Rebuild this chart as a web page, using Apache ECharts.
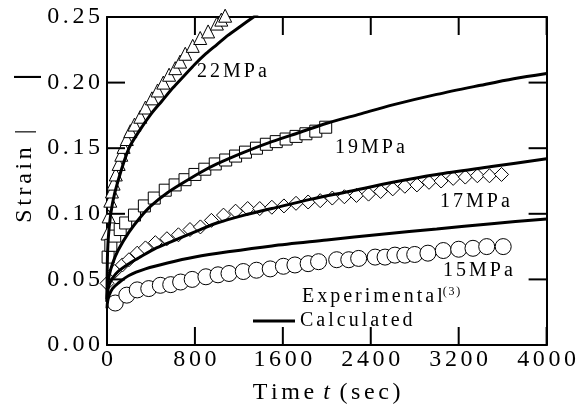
<!DOCTYPE html>
<html>
<head>
<meta charset="utf-8">
<script src="https://cdn.jsdelivr.net/npm/echarts@6/dist/echarts.min.js"></script>
<style>
  html, body { margin: 0; padding: 0; background: #fff; }
  #chart { width: 579px; height: 412px; }
</style>
</head>
<body>
<div id="chart"></div>
<script>
// Wide, typewriter-like spacing for the serif labels. Glyphs are placed one by one so that
// alignment and measured widths stay consistent with the extra spacing.
(function () {
  const P = CanvasRenderingContext2D.prototype;
  const fill = P.fillText, measure = P.measureText;
  function gap(ctx) {
    const r = /(\d+(?:\.\d+)?)px/.exec(ctx.font);
    return r ? parseFloat(r[1]) * 0.15 : 0;
  }
  P.measureText = function (text) {
    const m = measure.call(this, text);
    const s = String(text);
    const g = gap(this);
    if (!g || s.length < 2) return m;
    const extra = g * (Array.from(s).length - 1);
    return {
      width: m.width + extra,
      actualBoundingBoxLeft: m.actualBoundingBoxLeft,
      actualBoundingBoxRight: m.actualBoundingBoxRight + extra,
      actualBoundingBoxAscent: m.actualBoundingBoxAscent,
      actualBoundingBoxDescent: m.actualBoundingBoxDescent,
      fontBoundingBoxAscent: m.fontBoundingBoxAscent,
      fontBoundingBoxDescent: m.fontBoundingBoxDescent
    };
  };
  P.fillText = function (text, x, y) {
    const s = String(text);
    const g = gap(this);
    const chars = Array.from(s);
    if (!g || chars.length < 2) return fill.call(this, s, x, y);
    const widths = chars.map(c => measure.call(this, c).width);
    const total = widths.reduce((a, b) => a + b, 0) + g * (chars.length - 1);
    const align = this.textAlign;
    let cx = x;
    if (align === 'right' || align === 'end') cx = x - total;
    else if (align === 'center') cx = x - total / 2;
    this.textAlign = 'left';
    chars.forEach((c, i) => { fill.call(this, c, cx, y); cx += widths[i] + g; });
    this.textAlign = align;
  };
})();

// Axis ticks
const timeTicks = [0, 800, 1600, 2400, 3200, 4000];
const strainTicks = [0, 0.05, 0.10, 0.15, 0.20, 0.25];

// Stress levels
const stressLabels = ['22MPa', '19MPa', '17MPa', '15MPa'];

// Experimental creep data, 22 MPa (triangles)
const t22exp = [5, 15, 30, 45, 60, 80, 106, 130, 151, 180, 212, 250, 303, 350, 409, 460, 512, 565, 621, 665, 712, 780, 848, 920, 1000, 1040, 1075];
const e22exp = [0.085, 0.098, 0.110, 0.117, 0.123, 0.130, 0.138, 0.145, 0.151, 0.157, 0.163, 0.168, 0.174, 0.181, 0.188, 0.194, 0.200, 0.206, 0.211, 0.216, 0.222, 0.228, 0.234, 0.239, 0.245, 0.248, 0.251];

// Experimental creep data, 19 MPa (squares)
const t19exp = [10, 35, 70, 120, 170, 250, 340, 430, 530, 620, 710, 800, 890, 985, 1080, 1170, 1260, 1360, 1450, 1540, 1630, 1720, 1810, 1900, 1990];
const e19exp = [0.067, 0.076, 0.083, 0.088, 0.093, 0.099, 0.106, 0.112, 0.118, 0.122, 0.126, 0.130, 0.134, 0.138, 0.141, 0.144, 0.147, 0.150, 0.153, 0.155, 0.157, 0.159, 0.161, 0.163, 0.166];

// Experimental creep data, 17 MPa (diamonds)
const t17exp = [0, 70, 140, 200, 275, 350, 440, 545, 650, 755, 850, 950, 1060, 1170, 1280, 1390, 1500, 1610, 1720, 1830, 1940, 2050, 2160, 2270, 2380, 2490, 2600, 2710, 2820, 2930, 3040, 3150, 3260, 3370, 3480, 3590];
const e17exp = [0.047, 0.056, 0.061, 0.065, 0.070, 0.074, 0.078, 0.081, 0.084, 0.088, 0.090, 0.095, 0.099, 0.102, 0.104, 0.104, 0.105, 0.106, 0.108, 0.109, 0.110, 0.112, 0.113, 0.114, 0.115, 0.117, 0.119, 0.121, 0.122, 0.124, 0.125, 0.127, 0.128, 0.129, 0.129, 0.130];

// Experimental creep data, 15 MPa (circles)
const t15exp = [75, 180, 275, 380, 485, 580, 670, 775, 900, 1010, 1110, 1240, 1360, 1485, 1605, 1710, 1830, 1925, 2090, 2200, 2290, 2440, 2530, 2620, 2710, 2800, 2920, 3060, 3200, 3330, 3455, 3605];
const e15exp = [0.032, 0.038, 0.042, 0.043, 0.0455, 0.046, 0.048, 0.050, 0.052, 0.0535, 0.0545, 0.056, 0.057, 0.058, 0.060, 0.061, 0.062, 0.0635, 0.065, 0.065, 0.066, 0.067, 0.067, 0.0685, 0.0685, 0.069, 0.070, 0.072, 0.073, 0.0737, 0.075, 0.075];

// Calculated creep curves
const t22calc = [0, 5, 20, 50, 100, 200, 300, 400, 500, 600, 700, 800, 900, 1000, 1100, 1200, 1350, 1400];
const e22calc = [0.035, 0.070, 0.090, 0.108, 0.125, 0.150, 0.164, 0.176, 0.186, 0.196, 0.205, 0.214, 0.222, 0.229, 0.236, 0.242, 0.251, 0.254];
const t19calc = [0, 5, 20, 50, 100, 200, 300, 400, 550, 700, 850, 1000, 1250, 1500, 1750, 2000, 2300, 2600, 3000, 3400, 3700, 4000];
const e19calc = [0.033, 0.045, 0.053, 0.062, 0.072, 0.086, 0.097, 0.106, 0.116, 0.124, 0.1315, 0.138, 0.147, 0.155, 0.162, 0.169, 0.176, 0.183, 0.191, 0.198, 0.203, 0.207];
const t17calc = [0, 5, 20, 50, 100, 200, 300, 450, 650, 850, 1000, 1250, 1500, 1850, 2200, 2600, 3000, 3500, 4000];
const e17calc = [0.033, 0.040, 0.046, 0.051, 0.056, 0.062, 0.067, 0.074, 0.081, 0.088, 0.093, 0.099, 0.104, 0.111, 0.117, 0.124, 0.130, 0.136, 0.142];
const t15calc = [0, 5, 20, 50, 100, 200, 350, 550, 800, 1100, 1500, 2000, 2500, 3000, 3500, 4000];
const e15calc = [0.028, 0.033, 0.038, 0.043, 0.047, 0.053, 0.058, 0.0625, 0.067, 0.071, 0.0755, 0.080, 0.0845, 0.0885, 0.0925, 0.096];

const zip = (xs, ys) => xs.map((x, i) => [x, ys[i]]);

const FONT = 'Liberation Serif';
const T_MIN = timeTicks[0], T_MAX = timeTicks[timeTicks.length - 1];
const S_MIN = strainTicks[0], S_MAX = strainTicks[strainTicks.length - 1];
const TICK_LEN = 18;

function expSeries(name, xs, ys, symbol, size) {
  return {
    name: name, type: 'scatter', data: zip(xs, ys), symbol: symbol, symbolSize: size,
    clip: false, z: 2,
    itemStyle: { color: '#fff', borderColor: '#000', borderWidth: 1, opacity: 1 }
  };
}
function calcSeries(xs, ys) {
  return {
    name: 'Calculated', type: 'line', data: zip(xs, ys), showSymbol: false, symbol: 'none',
    smooth: 0.3, z: 3, color: '#000',
    lineStyle: { color: '#000', width: 3 }
  };
}

// Inward-pointing ticks on all four sides of the frame, placed through the axes' scales.
function tickLine(x1, y1, x2, y2) {
  return { type: 'line', shape: { x1: x1, y1: y1, x2: x2, y2: y2 },
    style: { stroke: '#000', lineWidth: 2 } };
}
const timeTickSeries = {
  name: 'timeTicks', type: 'custom', clip: false, z: 4, silent: true,
  data: timeTicks.map(v => [v, S_MIN]),
  renderItem: function (params, api) {
    const v = api.value(0);
    const bottom = api.coord([v, S_MIN]);
    const top = api.coord([v, S_MAX]);
    return { type: 'group', children: [
      tickLine(bottom[0], bottom[1], bottom[0], bottom[1] - TICK_LEN),
      tickLine(top[0], top[1], top[0], top[1] + TICK_LEN)
    ] };
  }
};
const strainTickSeries = {
  name: 'strainTicks', type: 'custom', clip: false, z: 4, silent: true,
  data: strainTicks.map(v => [T_MIN, v]),
  renderItem: function (params, api) {
    const v = api.value(1);
    const left = api.coord([T_MIN, v]);
    const right = api.coord([T_MAX, v]);
    return { type: 'group', children: [
      tickLine(left[0], left[1], left[0] + TICK_LEN, left[1]),
      tickLine(right[0], right[1], right[0] - TICK_LEN, right[1])
    ] };
  }
};

function frameAxis(extra) {
  return Object.assign({
    type: 'value',
    axisLine: { show: true, onZero: false, lineStyle: { color: '#000', width: 2 } },
    axisTick: { show: false },
    minorTick: { show: false },
    splitLine: { show: false }
  }, extra);
}

const chart = echarts.init(document.getElementById('chart'), null, { renderer: 'canvas' });
chart.setOption({
  animation: false,
  backgroundColor: '#fff',
  grid: { left: 107, right: 32, top: 17, bottom: 67 },
  legend: {
    data: ['Calculated'], left: 248, top: 306, icon: 'rect', itemWidth: 42, itemHeight: 3,
    textStyle: { fontFamily: FONT, fontSize: 20, color: '#000' }, selectedMode: false
  },
  xAxis: [
    frameAxis({
      min: T_MIN, max: T_MAX, interval: 800, position: 'bottom',
      name: 'Time {i|t} (sec)', nameLocation: 'middle', nameGap: 36,
      nameTextStyle: { fontFamily: FONT, fontSize: 24, color: '#000',
        rich: { i: { fontFamily: FONT, fontSize: 24, fontStyle: 'italic', color: '#000' } } },
      axisLabel: { fontFamily: FONT, fontSize: 24, color: '#000', margin: 3, formatter: v => String(v) }
    }),
    frameAxis({
      min: T_MIN, max: T_MAX, interval: 800, position: 'top',
      axisLabel: { show: false }
    })
  ],
  yAxis: [
    frameAxis({
      min: S_MIN, max: S_MAX, interval: 0.05, position: 'left',
      axisLabel: { fontFamily: FONT, fontSize: 24, color: '#000', margin: 7,
        formatter: v => v.toFixed(2) }
    }),
    frameAxis({
      min: S_MIN, max: S_MAX, interval: 0.05, position: 'right',
      axisLabel: { show: false }
    })
  ],
  graphic: [
    { type: 'text', x: 25, y: 176, rotation: Math.PI / 2,
      style: { text: 'Strain |', fontFamily: FONT, fontSize: 24, fill: '#000', align: 'center', verticalAlign: 'middle' } },
    { type: 'text', x: 27, y: 77, rotation: Math.PI / 2,
      style: { text: '|', fontFamily: FONT, fontSize: 30, fontWeight: 'bold', fill: '#000', align: 'center', verticalAlign: 'middle' } },
    { type: 'text', x: 197, y: 72,
      style: { text: stressLabels[0], fontFamily: FONT, fontSize: 20, fill: '#000', verticalAlign: 'middle' } },
    { type: 'text', x: 335, y: 148,
      style: { text: stressLabels[1], fontFamily: FONT, fontSize: 20, fill: '#000', verticalAlign: 'middle' } },
    { type: 'text', x: 440, y: 202,
      style: { text: stressLabels[2], fontFamily: FONT, fontSize: 20, fill: '#000', verticalAlign: 'middle' } },
    { type: 'text', x: 443, y: 271,
      style: { text: stressLabels[3], fontFamily: FONT, fontSize: 20, fill: '#000', verticalAlign: 'middle' } },
    { type: 'text', x: 302, y: 297,
      style: { text: 'Experimental{s|(3)}', fontFamily: FONT, fontSize: 20, fill: '#000', verticalAlign: 'middle',
        rich: { s: { fontFamily: FONT, fontSize: 12, fill: '#000', verticalAlign: 'top', padding: [0, 0, 10, 0] } } } }
  ],
  series: [
    expSeries('22MPa', t22exp, e22exp, 'triangle', 13),
    expSeries('19MPa', t19exp, e19exp, 'rect', 12),
    expSeries('17MPa', t17exp, e17exp, 'diamond', 14),
    expSeries('15MPa', t15exp, e15exp, 'circle', 16),
    calcSeries(t22calc, e22calc),
    calcSeries(t19calc, e19calc),
    calcSeries(t17calc, e17calc),
    calcSeries(t15calc, e15calc),
    timeTickSeries,
    strainTickSeries
  ]
});
</script>
</body>
</html>
